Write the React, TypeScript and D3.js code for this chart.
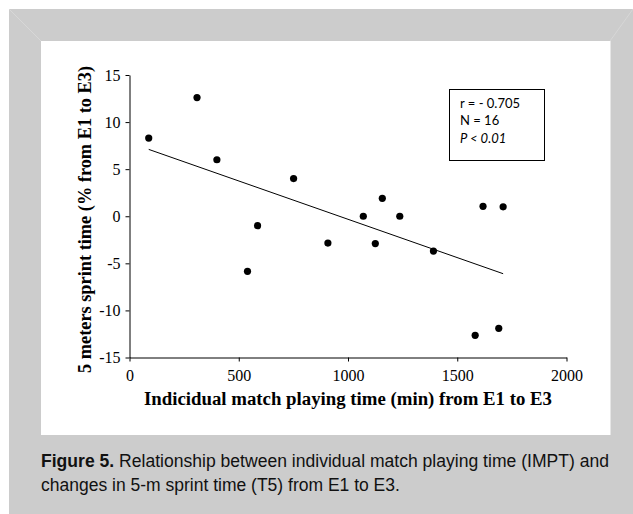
import * as d3 from "d3";
import React, { useEffect, useRef } from "react";

// match playing time (min) and change in 5-m sprint time (%)
const playingTime = [88, 309, 400, 540, 586, 751, 908, 1070, 1125, 1157, 1237, 1391, 1582, 1618, 1690, 1710];
const sprintChange = [8.3, 12.6, 6.0, -5.85, -1.0, 4.0, -2.85, 0, -2.9, 1.9, 0, -3.7, -12.65, 1.05, -11.9, 1.0];

// fitted line ends
const trendX = [88, 1710];
const trendY = [7.1, -6.1];

const xTicks = [0, 500, 1000, 1500, 2000];
const yTicks = [-15, -10, -5, 0, 5, 10, 15];

const statLines = ["r = - 0.705", "N = 16", "P < 0.01"];

const W = 633;
const H = 514;

const App = () => {
  const svgRef = useRef(null);

  useEffect(() => {
    const svg = d3.select(svgRef.current);
    svg.selectAll("*").remove();

    // outer grey frame + white plot card
    svg.append("rect").attr("x", 9).attr("y", 9).attr("width", W - 9).attr("height", H - 9).attr("fill", "#cccccc");
    svg.append("line").attr("x1", 9).attr("y1", 9).attr("x2", 41).attr("y2", 41).attr("stroke", "#d9d9d9").attr("stroke-width", 0.8);
    svg.append("line").attr("x1", W).attr("y1", 9).attr("x2", 610).attr("y2", 41).attr("stroke", "#d9d9d9").attr("stroke-width", 0.8);
    svg.append("rect").attr("x", 41).attr("y", 41).attr("width", 569.5).attr("height", 394).attr("fill", "#ffffff");

    const x = d3.scaleLinear().domain([0, 2000]).range([129.5, 566.5]);
    const y = d3.scaleLinear().domain([-15, 15]).range([357.5, 75]);

    const serif = "'Liberation Serif', 'Times New Roman', serif";
    const plain = (d) => String(d); // keep ascii hyphen like the original

    const yAxis = svg
      .append("g")
      .attr("transform", `translate(${x(0)},0)`)
      .call(d3.axisLeft(y).tickValues(yTicks).tickFormat(plain).tickSize(4).tickSizeOuter(0).tickPadding(5));
    yAxis
      .selectAll("text")
      .style("font-family", serif)
      .style("font-size", "16px")
      .attr("fill", "#000");
    yAxis.selectAll("line, path").attr("stroke", "#000");

    const xAxis = svg
      .append("g")
      .attr("transform", `translate(0,${y(-15)})`)
      .call(d3.axisBottom(x).tickValues(xTicks).tickFormat(plain).tickSize(4).tickSizeOuter(0).tickPadding(8));
    xAxis
      .selectAll("text")
      .style("font-family", serif)
      .style("font-size", "16px")
      .attr("fill", "#000");
    xAxis.selectAll("line, path").attr("stroke", "#000");

    // regression line
    svg
      .append("line")
      .attr("x1", x(trendX[0]))
      .attr("y1", y(trendY[0]))
      .attr("x2", x(trendX[1]))
      .attr("y2", y(trendY[1]))
      .attr("stroke", "#000")
      .attr("stroke-width", 1);

    svg
      .selectAll(".dot")
      .data(playingTime)
      .enter()
      .append("circle")
      .attr("cx", (d) => x(d))
      .attr("cy", (_, i) => y(sprintChange[i]))
      .attr("r", 3.6)
      .attr("fill", "#000");

    // stats box
    svg.append("rect").attr("x", 449.5).attr("y", 89.5).attr("width", 95).attr("height", 71).attr("fill", "#fff").attr("stroke", "#000").attr("stroke-width", 1);
    svg
      .selectAll(".stat")
      .data(statLines)
      .enter()
      .append("text")
      .attr("x", 460)
      .attr("y", (_, i) => 107.5 + i * 17.5)
      .attr("font-family", "Lato, 'Open Sans', sans-serif")
      .attr("font-size", 13)
      .attr("font-style", (_, i) => (i === 2 ? "italic" : "normal"))
      .text((d) => d);

    // axis titles
    svg
      .append("text")
      .attr("x", 348)
      .attr("y", 405)
      .attr("text-anchor", "middle")
      .attr("font-family", serif)
      .attr("font-weight", "bold")
      .attr("font-size", 18.5)
      .attr("textLength", 408)
      .attr("lengthAdjust", "spacingAndGlyphs")
      .text("Indicidual match playing time (min) from E1 to E3");

    svg
      .append("text")
      .attr("transform", "translate(91,219.5) rotate(-90)")
      .attr("text-anchor", "middle")
      .attr("font-family", serif)
      .attr("font-weight", "bold")
      .attr("font-size", 18)
      .attr("textLength", 307)
      .attr("lengthAdjust", "spacingAndGlyphs")
      .text("5 meters sprint time (% from E1 to E3)");

    // caption
    const sans = "'Liberation Sans', Arial, sans-serif";
    const cap1 = svg
      .append("text")
      .attr("x", 41)
      .attr("y", 467)
      .attr("font-family", sans)
      .attr("font-size", 17.5)
      .attr("fill", "#111")
      .attr("textLength", 568)
      .attr("lengthAdjust", "spacingAndGlyphs");
    cap1.append("tspan").attr("font-weight", "bold").text("Figure 5.");
    cap1.append("tspan").text(" Relationship between individual match playing time (IMPT) and");
    svg
      .append("text")
      .attr("x", 41)
      .attr("y", 491)
      .attr("font-family", sans)
      .attr("font-size", 17.5)
      .attr("fill", "#111")
      .text("changes in 5-m sprint time (T5) from E1 to E3.");
  }, []);

  return (
    <svg ref={svgRef} width={W} height={H} style={{ position: "absolute", left: 0, top: 0 }} />
  );
};

export default App;
